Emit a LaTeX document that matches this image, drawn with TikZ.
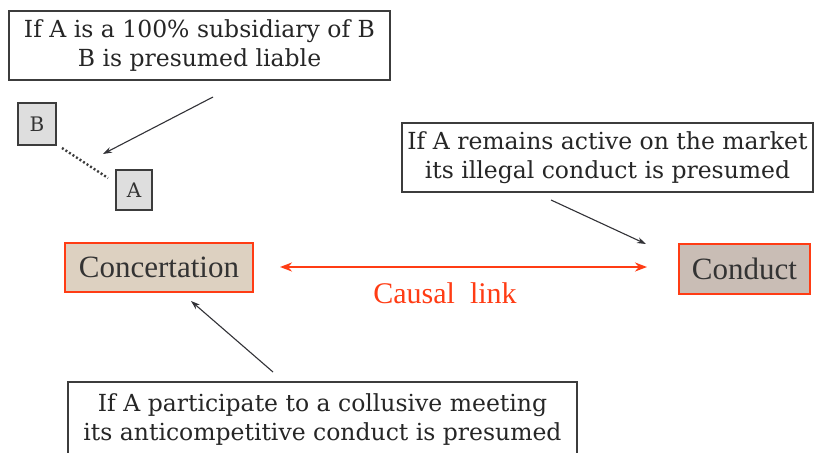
\documentclass[tikz,border=0pt]{standalone}
\usepackage{fontspec}
\setmainfont{Liberation Serif}
\newfontfamily\slab{DejaVu Serif}
\usetikzlibrary{arrows.meta,calc}
\definecolor{boxline}{RGB}{60,60,60}
\definecolor{arrowgray}{RGB}{50,50,55}
\definecolor{linkred}{RGB}{255,60,20}
\definecolor{concfill}{RGB}{221,209,193}
\definecolor{condfill}{RGB}{201,189,181}
\definecolor{entfill}{RGB}{222,222,222}
\tikzset{
  x=1pt, y=-1pt,
  notefont/.style={font=\slab\fontsize{23.5}{29}\selectfont, text=black!85},
  note/.style={draw=boxline, line width=1.2pt, fill=white, align=center, inner sep=0pt, notefont},
  entity/.style={draw=boxline, line width=1.2pt, fill=entfill, inner sep=0pt,
    font=\slab\fontsize{20}{22}\selectfont, text=black!80},
  stage/.style={draw=linkred, line width=1.4pt, inner sep=0pt,
    font=\fontsize{31}{34}\selectfont, text=black!80},
  pointer/.style={draw=arrowgray, line width=1.1pt, -{Stealth[length=9pt,width=6pt]}},
}
\begin{document}
\begin{tikzpicture}
\clip (0,0) rectangle (821,452);
\fill[white] (0,0) rectangle (821,452);

% explanatory notes
\node[note, minimum width=381, minimum height=69] (n1) at (199.5,45.5)
  {If A is a 100\% subsidiary of B\\B is presumed liable};
\node[note, minimum width=411, minimum height=69] (n2) at (607.5,157.5)
  {If A remains active on the market\\its illegal conduct is presumed};
\node[note, minimum width=509, minimum height=90] (n3) at (322.5,427) {};
\node[notefont, align=center, inner sep=0pt] (n3t) at (322.5,420)
  {If A participate to a collusive meeting\\its anticompetitive conduct is presumed};

% group entities
\node[entity, minimum width=38, minimum height=42] (B) at (37,124) {B};
\node[entity, minimum width=36, minimum height=40] (A) at (134,190) {A};
\coordinate (bd) at (62,148);
\coordinate (ad) at (108,178);
\draw[boxline, line width=2.4pt, dash pattern=on 2pt off 2.2pt] (bd) -- (ad);

% stages of the infringement
\node[stage, fill=concfill, minimum width=188, minimum height=49] (conc) at (159,267.5) {Concertation};
\node[stage, fill=condfill, minimum width=131, minimum height=50] (cond) at (744.5,269) {Conduct};

\coordinate (cl1) at (280,267);
\coordinate (cl2) at (647,267);
\draw[linkred, line width=2.8pt, {Stealth[length=12pt,width=9pt]}-{Stealth[length=12pt,width=9pt]}]
  (cl1) -- (cl2);
\node[text=linkred, font=\fontsize{30}{33}\selectfont] (cl) at (445,293) {Causal\enspace link};

% note pointers
\coordinate (p1) at (213,97);
\coordinate (p1e) at (103,154);
\draw[pointer] (p1) -- (p1e);
\coordinate (p2) at (551,200);
\coordinate (p2e) at (646,244);
\draw[pointer] (p2) -- (p2e);
\coordinate (p3) at (273,372);
\coordinate (p3e) at (191,301);
\draw[pointer] (p3) -- (p3e);
\end{tikzpicture}
\end{document}
